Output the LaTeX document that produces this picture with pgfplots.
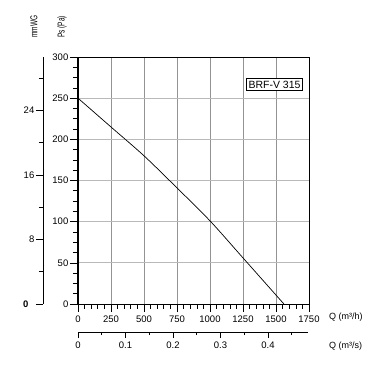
\documentclass[border=0pt]{standalone}
\usepackage{graphicx}
\usepackage{pgfplots}
\pgfplotsset{compat=1.18}
\usepackage{fontspec}
\setmainfont{Liberation Sans}
\newcommand{\lblfont}{\fontsize{9.5}{11}\selectfont}
\begin{document}
\begin{tikzpicture}[x=1pt,y=1pt]
\useasboundingbox (0,0) rectangle (376,376);
\pgfplotsset{
  every axis/.append style={
    /pgf/number format/assume math mode=true,
    tick label style={font=\lblfont},
    scale only axis,
  }
}
% main axis
\begin{axis}[
  at={(78pt,72pt)}, anchor=south west,
  width=231pt, height=247pt,
  xmin=0, xmax=1750, ymin=0, ymax=300,
  xtick={0,250,...,1750}, minor x tick num=4,
  ytick={0,50,...,300}, minor y tick num=3,
  xtick pos=lower, ytick pos=left,
  tick align=outside,
  major tick length=8pt, minor tick length=5pt,
  tick style={black, line width=0.6pt},
  grid=major,
  major x grid style={gray!85, line width=0.7pt},
  major y grid style={gray!55, line width=0.7pt},
  axis line style={black, line width=0.8pt},
  xticklabel style={/pgf/number format/1000 sep={}},
  yticklabel style={inner xsep=1.5pt},
  clip=false,
]
\addplot[black, line width=0.7pt, smooth, tension=0.5] coordinates {
(0,250) (250,215) (500,180) (750,141) (1000,101) (1250,56) (1560,0)
};
\draw[black, line width=1.3pt] (axis cs:0,0) -- (axis cs:0,300);
\end{axis}
% mmWG axis
\begin{axis}[
  at={(43pt,72pt)}, anchor=south west,
  width=10pt, height=247pt,
  ymin=0, ymax=30.5915,
  axis y line=left, axis x line=none,
  axis line style={-, black, line width=0.8pt},
  ytick={8,16,24}, minor ytick={4,12,20,28},
  extra y ticks={0},
  extra y tick style={yticklabel style={xshift=-6pt, font=\lblfont\bfseries}},
  yticklabel style={inner xsep=1.5pt},
  tick align=outside,
  major tick length=7pt, minor tick length=4pt,
  tick style={black, line width=0.6pt},
]
\addplot[draw=none] coordinates {(0,0)};
\end{axis}
% m3/s axis
\begin{axis}[
  at={(78pt,44pt)}, anchor=south west,
  width=230pt, height=10pt,
  xmin=0, xmax=0.4842, ymin=0, ymax=1,
  axis x line=bottom, axis y line=none,
  axis line style={-, black, line width=0.8pt},
  xtick={0,0.1,0.2,0.3,0.4}, xticklabels={0,0.1,0.2,0.3,0.4},
  minor xtick={0.05,0.15,0.25,0.35,0.45},
  tick align=outside,
  major tick length=6pt, minor tick length=3pt,
  tick style={black, line width=0.6pt},
]
\addplot[draw=none] coordinates {(0,0)};
\end{axis}
\node[anchor=west, inner xsep=1pt, font=\fontsize{9}{11}\selectfont] at (328,59) {Q (m³/h)};
\node[anchor=west, inner xsep=1pt, font=\fontsize{9}{11}\selectfont] at (328,30) {Q (m³/s)};
\node[rotate=90, anchor=west, inner xsep=0pt, font=\fontsize{10}{12}\selectfont] at (62,338) {\scalebox{0.65}[1]{Ps (Pa)}};
\node[rotate=90, anchor=west, inner xsep=0pt, font=\fontsize{10}{12}\selectfont] at (34,338) {\scalebox{0.65}[1]{mmWG}};
\node[draw=black, line width=0.7pt, fill=white, inner xsep=2pt, inner ysep=2pt, font=\fontsize{10.5}{12}\selectfont] at (274.5,291.5) {BRF-V 315};
\end{tikzpicture}
\end{document}
